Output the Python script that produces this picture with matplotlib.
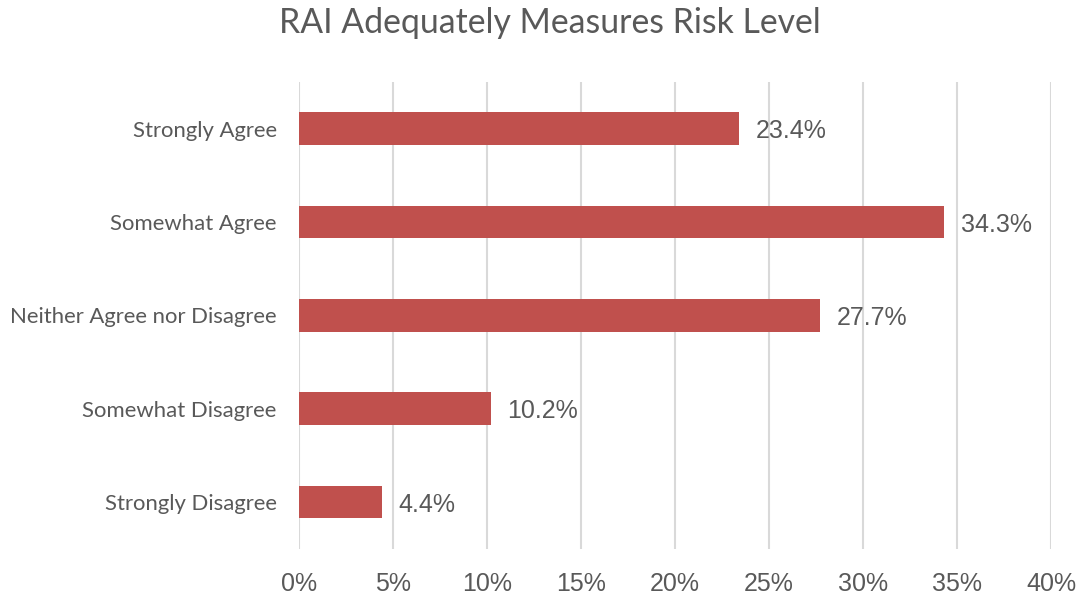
import matplotlib
matplotlib.use("Agg")
import matplotlib.pyplot as plt

categories = ["Strongly Agree", "Somewhat Agree", "Neither Agree nor Disagree",
              "Somewhat Disagree", "Strongly Disagree"]
values = [23.4, 34.3, 27.7, 10.2, 4.4]
xticks = [0, 5, 10, 15, 20, 25, 30, 35, 40]
xtick_labels = [f"{t}%" for t in xticks]
title = "RAI Adequately Measures Risk Level"

BAR = "#C0504D"
TXT = "#595959"
GRID = "#D9D9D9"

fig = plt.figure(figsize=(10.81, 6.0), dpi=100)
ax = fig.add_axes([299/1081, 1-548.7/600, (1051-299)/1081, (548.7-82)/600])

ypos = list(range(len(categories)))
ax.barh(ypos, values, height=0.35, color=BAR, zorder=3)
ax.set_ylim(len(categories)-0.5, -0.5)
ax.set_xlim(0, 40)
ax.set_xticks(xticks)
ax.set_xticklabels(xtick_labels, fontfamily="Liberation Sans", fontsize=18, color=TXT)
ax.set_yticks(ypos)
ax.set_yticklabels(categories, fontfamily="Lato", fontsize=15.9, color=TXT)
ax.tick_params(axis="both", length=0)
ax.tick_params(axis="x", pad=17)
ax.tick_params(axis="y", pad=16)
for s in ax.spines.values():
    s.set_visible(False)
ax.grid(axis="x", color=GRID, linewidth=1.5, zorder=0)
ax.grid(axis="y", visible=False)

for y, v in zip(ypos, values):
    ax.annotate(f"{v:.1f}%", xy=(v, y), xytext=(12, -2), textcoords="offset points",
                va="center", ha="left", fontfamily="Liberation Sans", fontsize=18, color=TXT)

fig.text(549.5/1081, 1-23/600, title, ha="center", va="center",
         fontfamily="Lato", fontsize=24.3, color=TXT)

fig.savefig("out.png", dpi=100)
